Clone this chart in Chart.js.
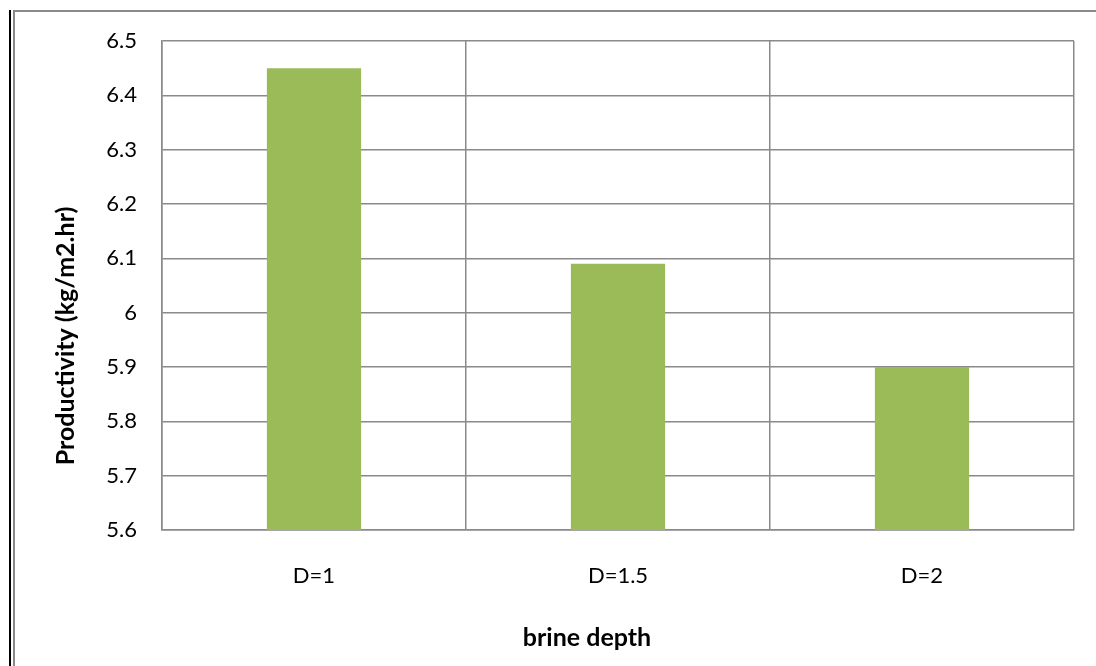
<!DOCTYPE html>
<html>
<head>
<meta charset="utf-8">
<script src="https://cdn.jsdelivr.net/npm/chart.js@4"></script>
<style>
  html, body { margin: 0; padding: 0; background: #fff; }
  #wrap { position: relative; width: 1096px; height: 666px; overflow: hidden; }
  #chartBox { position: absolute; left: 0; top: 0; width: 1096px; height: 666px; }
  .line { position: absolute; }
</style>
</head>
<body>
<div id="wrap">
  <div class="line" style="left:9px;top:10px;width:2px;height:656px;background:#000;"></div>
  <div class="line" style="left:13px;top:10px;width:2px;height:656px;background:#8a8a8a;"></div>
  <div class="line" style="left:13px;top:10px;width:1083px;height:2px;background:#8a8a8a;"></div>
  <div id="chartBox"><canvas id="barChart"></canvas></div>
</div>
<script>
const categories = ['D=1', 'D=1.5', 'D=2'];
const productivity = [6.45, 6.09, 5.90];
const yMin = 5.6;
const yMax = 6.5;
const yStep = 0.1;
const xTitle = 'brine depth';
const yTitle = 'Productivity (kg/m2.hr)';

const gridColor = '#8a8a8a';
const fontFamily = 'Lato, "Open Sans", sans-serif';

// Excel places the axis titles a bit off the plot centre, so draw them by hand
const axisTitles = {
    id: 'axisTitles',
    afterDraw(chart) {
        const c = chart.ctx;
        c.save();
        c.font = 'bold 25px ' + fontFamily;
        c.fillStyle = '#000';
        c.textAlign = 'center';
        c.textBaseline = 'middle';
        c.fillText(xTitle, 587, 638);
        c.translate(66, 336);
        c.rotate(-Math.PI / 2);
        c.fillText(yTitle, 0, 0);
        c.restore();
    }
};

const ctx = document.getElementById('barChart').getContext('2d');

const barChart = new Chart(ctx, {
    type: 'bar',
    data: {
        labels: categories,
        datasets: [{
            label: 'Productivity',
            data: productivity,
            backgroundColor: '#9bbb59',
            borderWidth: 0,
            barPercentage: 0.31,
            categoryPercentage: 1.0
        }]
    },
    plugins: [axisTitles],
    options: {
        responsive: true,
        maintainAspectRatio: false,
        animation: false,
        plugins: {
            legend: { display: false },
            tooltip: { enabled: false }
        },
        layout: {
            padding: { left: 52, top: 41, right: 22, bottom: 0 }
        },
        scales: {
            x: {
                grid: {
                    color: gridColor,
                    lineWidth: 1.5,
                    offset: true,
                    drawTicks: false
                },
                border: { color: gridColor, width: 1.5 },
                ticks: {
                    color: '#000',
                    font: { family: fontFamily, size: 22 },
                    padding: 33
                },
                afterFit: function (scale) {
                    scale.height = 136;
                }
            },
            y: {
                min: yMin,
                max: yMax,
                grid: {
                    color: gridColor,
                    lineWidth: 1.5,
                    drawTicks: false
                },
                border: { color: gridColor, width: 1.5 },
                ticks: {
                    stepSize: yStep,
                    color: '#000',
                    font: { family: fontFamily, size: 22 },
                    padding: 25,
                    callback: function (value) {
                        return Math.round(value * 10) / 10;
                    }
                },
                afterFit: function (scale) {
                    scale.width = 110;
                }
            }
        }
    }
});
</script>
</body>
</html>
